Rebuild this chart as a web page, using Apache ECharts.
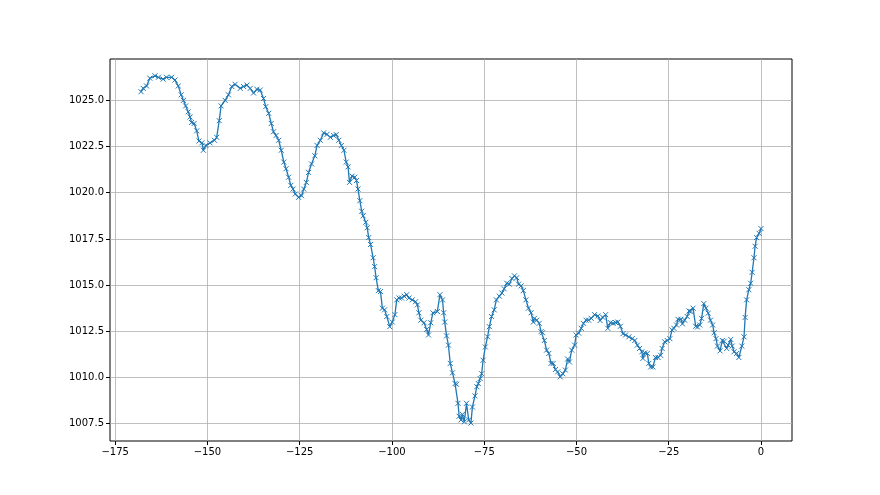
<!DOCTYPE html>
<html>
<head>
<meta charset="utf-8">
<script src="https://cdn.jsdelivr.net/npm/echarts@6/dist/echarts.min.js"></script>
<style>
html,body{margin:0;padding:0;background:#fff;}
#chart{width:880px;height:495px;}
</style>
</head>
<body>
<div id="chart"></div>
<script>
// hours relative to now
const hours = [
-168,-167.4,-166.5,-165.6,-164.2,-163.3,-162.0,-161.1,-159.7,-158.8,-157.9,-157.1,-156.5,-155.9,-155.2,-154.7,-154.3,-153.6,-152.9,-152.3,-151.5,-151.1,-150.4,-149.3,-148.1,-147.5,-146.8,-146.3,-145.2,-144.3,-143.4,
-142.5,-141.1,-140.2,-139.3,-138.4,-137.5,-136.6,-135.7,-134.8,-134.2,-133.4,-132.7,-132.1,-131.4,-130.7,-130.0,-129.3,-128.7,-128.0,-127.4,-126.8,-126.2,-125.3,-124.5,-123.9,-123.2,-122.6,-121.8,-120.9,-120.3,-119.4,-118.5,-117.6,-116.7,-115.8,
-115.1,-114.4,-113.7,-113.0,-112.4,-111.9,-111.5,-110.8,-110.1,-109.6,-109.2,-108.7,-108.2,-107.8,-107.1,-106.7,-106.3,-105.8,-105.1,-104.7,-104.3,-103.7,-103.1,-102.6,-102.0,-101.4,-100.6,-99.9,-99.2,-98.7,-98.1,-97.4,-96.7,-96.0,-95.4,-94.5,-93.6,-93.1,-92.7,-92.2,-91.3,-90.6,-90.1,-89.5,-88.9,
-87.7,-87.0,-86.3,-86.0,-85.7,-85.2,-84.7,-84.2,-83.6,-82.9,-82.5,-82.1,-81.8,-81.3,-80.9,-80.4,-79.8,-79.2,-78.6,-78.2,-77.5,-77.0,-76.6,-76.1,-75.7,-75.3,-74.7,-74.1,-73.6,-73.0,-72.3,-71.7,-70.9,-70.2,-69.6,-68.9,-68.2,-67.5,-66.8,-66.2,-65.7,-65.0,-64.4,-63.7,-63.0,-62.3,-61.7,
-61.4,-60.8,-60.1,-59.6,-59.2,-58.7,-58.1,-57.5,-56.9,-56.3,-55.7,-55.1,-54.4,-53.7,-53.0,-52.4,-51.9,-51.3,-50.5,-50.1,-49.4,-48.7,-48.1,-47.4,-46.7,-46.0,-45.1,-44.2,-43.6,-42.9,-42.1,-41.5,-40.8,-40.1,-39.4,-38.8,-38.1,-37.4,-36.7,-35.8,-34.9,-34.2,
-33.5,-32.9,-32.3,-32.0,-31.5,-30.8,-30.4,-29.9,-29.3,-28.6,-27.9,-27.2,-26.8,-26.1,-25.4,-24.7,-24.1,-23.6,-22.9,-22.5,-21.7,-21.3,-20.7,-20.0,-19.5,-19.0,-18.4,-17.7,-17.2,-16.6,-16.1,-15.5,-14.9,-14.3,-13.7,-13.1,-12.7,-12.2,-11.8,-11.1,-10.5,-10.0,-9.3,-8.9,-8.2,-7.8,-7.3,-6.6,-6.0,-5.2,-4.6,-4.3,-3.9,-3.3,-2.8,-2.4,-1.9,-1.6,-1.2,-0.5,0
];
const pressure = [
1025.47,1025.65,1025.78,1026.2,1026.33,1026.25,1026.15,1026.25,1026.25,1026.1,1025.78,1025.3,1025.0,1024.7,1024.38,1024.1,1023.8,1023.75,1023.35,1022.8,1022.7,1022.3,1022.56,1022.7,1022.84,1023.0,1023.9,1024.7,1025.0,1025.3,1025.75,
1025.87,1025.65,1025.75,1025.83,1025.65,1025.4,1025.6,1025.56,1025.1,1024.66,1024.3,1023.75,1023.3,1023.1,1022.84,1022.3,1021.66,1021.3,1020.84,1020.4,1020.2,1019.93,1019.75,1019.84,1020.2,1020.56,1021.1,1021.56,1022.0,1022.56,1022.84,1023.24,1023.16,1023.0,1023.1,
1023.15,1022.84,1022.56,1022.3,1021.66,1021.4,1020.56,1020.9,1020.84,1020.66,1020.2,1019.57,1019.0,1018.75,1018.4,1018.1,1017.57,1017.2,1016.48,1016.0,1015.4,1014.7,1014.65,1013.75,1013.66,1013.3,1012.75,1013.0,1013.4,1014.2,1014.3,1014.3,1014.4,1014.48,1014.3,1014.2,1014.1,1013.93,1013.5,1013.1,1012.96,1012.6,1012.3,1012.96,1013.5,
1013.57,1014.48,1014.2,1013.5,1013.0,1012.25,1011.75,1010.76,1010.25,1009.67,1009.63,1008.6,1007.9,1007.7,1008.0,1007.6,1008.6,1007.7,1007.53,1008.4,1009.0,1009.5,1009.67,1009.94,1010.2,1010.93,1011.65,1012.2,1012.75,1013.3,1013.66,1014.2,1014.4,1014.57,1014.8,1015.1,1015.05,1015.36,1015.5,1015.4,1015.05,1014.96,1014.7,1014.2,1013.75,1013.5,1013.0,
1013.2,1013.1,1012.93,1012.48,1012.42,1012.0,1011.48,1011.3,1010.76,1010.76,1010.43,1010.3,1010.03,1010.2,1010.4,1011.0,1010.84,1011.48,1011.75,1012.3,1012.4,1012.66,1012.93,1013.1,1013.1,1013.2,1013.4,1013.33,1013.08,1013.26,1013.4,1012.66,1012.97,1012.93,1012.97,1013.0,1012.77,1012.37,1012.3,1012.2,1012.1,1012.0,
1011.75,1011.57,1011.39,1011.03,1011.33,1011.3,1010.76,1010.57,1010.57,1011.08,1011.08,1011.2,1011.57,1011.93,1012.0,1012.1,1012.57,1012.66,1012.84,1013.15,1013.15,1012.9,1013.1,1013.3,1013.6,1013.57,1013.75,1012.77,1012.73,1012.84,1013.2,1014.0,1013.75,1013.48,1013.1,1012.84,1012.42,1012.1,1011.7,1011.44,1012.0,1011.96,1011.57,1011.75,1012.06,1011.7,1011.39,1011.3,1011.08,1011.7,1012.2,1013.25,1014.2,1014.75,1015.1,1015.69,1016.48,1017.1,1017.57,1017.8,1018.06
];
const xTicks = [-175,-150,-125,-100,-75,-50,-25,0];
const yTicks = [1007.5,1010.0,1012.5,1015.0,1017.5,1020.0,1022.5,1025.0];

const data = hours.map((h, i) => [h, pressure[i]]);
const chart = echarts.init(document.getElementById('chart'), null, {renderer: 'canvas'});
const font = {fontFamily: 'DejaVu Sans', fontSize: 10, color: '#000'};
chart.setOption({
  animation: false,
  backgroundColor: '#fff',
  grid: {left: 110, right: 88, top: 59, bottom: 54, show: true, borderColor: '#000', borderWidth: 1, backgroundColor: 'transparent'},
  xAxis: {
    type: 'value', min: -176.4, max: 8.4,
    axisLine: {show: false, onZero: false},
    axisTick: {show: true, inside: false, length: 4, lineStyle: {color: '#000'}, customValues: xTicks},
    axisLabel: Object.assign({margin: 6, customValues: xTicks, formatter: v => String(v).replace('-', '\u2212')}, font),
    splitLine: {show: true, lineStyle: {color: '#b0b0b0', width: 0.8}}
  },
  yAxis: {
    type: 'value', min: 1006.56, max: 1027.24,
    axisLine: {show: false, onZero: false},
    axisTick: {show: true, inside: false, length: 4, lineStyle: {color: '#000'}, customValues: yTicks},
    axisLabel: Object.assign({margin: 6, customValues: yTicks, formatter: v => v.toFixed(1)}, font),
    splitLine: {show: true, lineStyle: {color: '#b0b0b0', width: 0.8}}
  },
  series: [{
    type: 'line',
    data: data,
    symbol: 'path://M0,0L10,10M10,0L0,10',
    symbolSize: 5,
    showSymbol: true,
    lineStyle: {color: '#1f77b4', width: 1.3},
    itemStyle: {color: '#1f77b4', borderColor: '#1f77b4', borderWidth: 1},
    z: 3
  }]
});
</script>
</body>
</html>
